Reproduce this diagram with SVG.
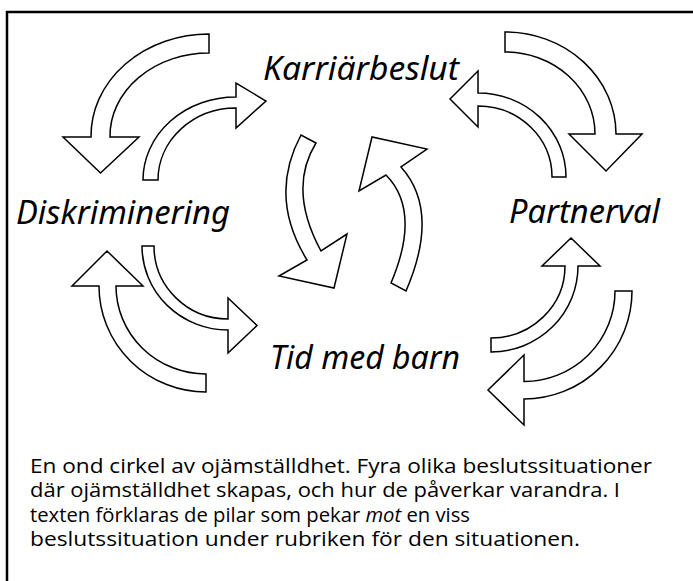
<svg xmlns="http://www.w3.org/2000/svg" width="693" height="581" viewBox="0 0 693 581">
<style>
.frame{fill:none;stroke:#000;stroke-width:2.5}
.arrow{fill:#fff;stroke:#000;stroke-width:1.5;stroke-linejoin:miter}
.label{font-family:"Comic Sans MS","Noto Sans","DejaVu Sans",sans-serif;font-style:italic;font-size:33px;fill:#000}
.caption{font-family:"Open Sans","Noto Sans",sans-serif;font-size:19.5px;fill:#000}
.it{font-style:italic}
</style>
<rect width="693" height="581" fill="#fff"/>
<rect class="frame" x="7" y="12" width="720" height="620"/>
<g id="connectors">
<path id="arrow-karriar-diskr" class="arrow" d="M209,34 A118,102 0 0 0 91,137 L63,137 L100.5,173 L139,137 L110,137 A99,83 0 0 1 209,53 Z"/>
<path id="arrow-diskr-karriar" class="arrow" d="M143,180 A93,83 0 0 1 236,97 L236,83 L266,101 L236,128 L236,108 A78,72 0 0 0 158,180 Z"/>
<path id="arrow-diskr-tid" class="arrow" d="M142,246 A86,84 0 0 0 228,330 L228,353 L257,325.5 L228,298 L228,319 A74,73 0 0 1 154,246 Z"/>
<path id="arrow-tid-diskr" class="arrow" d="M206,392 A107,106 0 0 1 99,286 L72,286 L107,251 L143,286 L116,286 A90,88 0 0 0 206,374 Z"/>
<path id="arrow-karriar-partner" class="arrow" d="M505,32 A111,102 0 0 1 616,134 L642,134 L606,171 L569,134 L595,134 A90,82 0 0 0 505,52 Z"/>
<path id="arrow-partner-karriar" class="arrow" d="M566,177 A88,84 0 0 0 478,93 L478,71 L450,99 L478,127 L478,106 A74,71 0 0 1 552,177 Z"/>
<path id="arrow-tid-partner" class="arrow" d="M491,352 A87,86 0 0 0 578,266 L600,266 L571,238 L542,266 L565,266 A74,72 0 0 1 491,338 Z"/>
<path id="arrow-partner-tid" class="arrow" d="M632,291 A108,108 0 0 1 524,399 L524,425 L488,390 L524,355 L524,381.5 A91,90.5 0 0 0 615,291 Z"/>
<path id="arrow-karriar-tid" class="arrow" d="M316,143 L301,135 Q268,196.5 307,260 L279,276 L334,288 L347,234 L321,251 Q287.5,189 316,143 Z"/>
<path id="arrow-tid-karriar" class="arrow" d="M391,283 Q421.5,211 386,175 L359,191 L372,137 L427,149 L401,167 Q440.5,211 406,291 Z"/>
</g>
<g id="node-karriarbeslut"><text class="label" x="263" y="80" textLength="196" lengthAdjust="spacingAndGlyphs">Karriärbeslut</text></g>
<g id="node-diskriminering"><text class="label" x="16" y="224" textLength="214" lengthAdjust="spacingAndGlyphs">Diskriminering</text></g>
<g id="node-partnerval"><text class="label" x="509" y="223" textLength="151" lengthAdjust="spacingAndGlyphs">Partnerval</text></g>
<g id="node-tid-med-barn"><text class="label" x="270" y="369" textLength="190" lengthAdjust="spacingAndGlyphs">Tid med barn</text></g>
<g id="caption">
<text class="caption" x="30" y="472.5" textLength="622" lengthAdjust="spacingAndGlyphs">En ond cirkel av ojämställdhet. Fyra olika beslutssituationer</text>
<text class="caption" x="30" y="497" textLength="590" lengthAdjust="spacingAndGlyphs">där ojämställdhet skapas, och hur de påverkar varandra. I</text>
<text class="caption" x="30" y="521.5" textLength="440" lengthAdjust="spacingAndGlyphs">texten förklaras de pilar som pekar <tspan class="it">mot</tspan> en viss</text>
<text class="caption" x="30" y="546" textLength="550" lengthAdjust="spacingAndGlyphs">beslutssituation under rubriken för den situationen.</text>
</g>
</svg>
